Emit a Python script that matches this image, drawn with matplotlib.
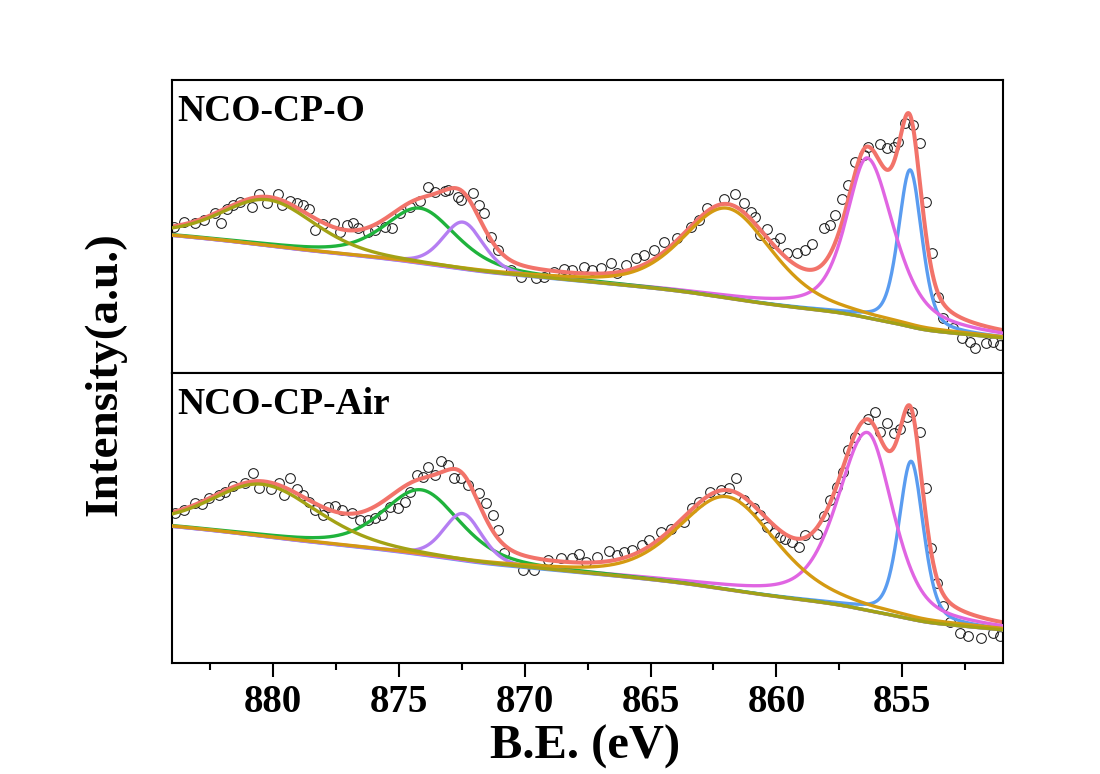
import numpy as np
import matplotlib
matplotlib.use("Agg")
import matplotlib.pyplot as plt
from matplotlib.ticker import MultipleLocator

plt.rcParams['font.family'] = ['Liberation Serif', 'DejaVu Serif']
plt.rcParams['font.weight'] = 'bold'

# ---- measured points (B.E. in eV, intensity in a.u.) ----
be_o = [883.93, 883.54, 883.08, 882.74, 882.28, 882.05, 881.82, 881.56, 881.29, 880.83,
        880.54, 880.24, 879.80, 879.64, 879.31, 879.05, 878.78, 878.58, 878.32, 877.99,
        877.55, 877.33, 877.07, 876.80, 876.60, 876.21, 875.95, 875.55, 875.28, 874.95,
        874.56, 874.16, 873.83, 873.57, 873.17, 873.05, 872.66, 872.52, 872.06, 871.80,
        871.60, 871.33, 871.07, 870.54, 870.15, 869.55, 869.22, 868.83, 868.43, 868.10,
        867.64, 867.31, 866.98, 866.58, 866.32, 865.99, 865.59, 865.26, 864.86, 864.47,
        863.94, 863.41, 863.08, 862.75, 862.09, 861.63, 861.30, 861.03, 860.84, 860.64,
        860.37, 860.11, 859.84, 859.58, 859.19, 858.85, 858.59, 858.13, 857.86, 857.67,
        857.40, 857.14, 856.87, 856.54, 856.35, 855.88, 855.62, 855.35, 855.16, 854.89,
        854.59, 854.30, 854.06, 853.84, 853.57, 853.38, 852.98, 852.65, 852.32, 852.12,
        851.66, 851.39, 851.13]
int_o = [146.3, 151.3, 149.7, 153.0, 159.7, 149.7, 163.7, 168.0, 170.7, 165.7,
         179.0, 169.7, 179.0, 168.0, 172.3, 169.7, 168.0, 163.7, 143.0, 149.0,
         150.3, 141.3, 148.0, 149.7, 144.7, 141.3, 143.0, 146.3, 144.7, 159.7,
         165.7, 172.3, 186.3, 181.3, 182.3, 183.0, 176.3, 173.0, 179.7, 168.0,
         160.3, 136.3, 123.0, 103.0, 96.3, 94.7, 96.3, 101.3, 103.7, 103.0,
         106.3, 103.0, 104.7, 109.7, 99.7, 108.0, 114.7, 118.0, 123.0, 131.3,
         134.7, 146.3, 153.0, 164.7, 173.7, 179.0, 170.3, 161.3, 156.3, 138.0,
         143.7, 130.3, 134.7, 119.7, 119.7, 123.0, 129.0, 144.7, 148.0, 158.0,
         173.7, 188.0, 211.3, 218.0, 226.3, 229.0, 224.7, 226.3, 231.3, 249.7,
         248.0, 230.3, 171.3, 120.3, 76.3, 54.7, 44.7, 34.7, 31.3, 24.7,
         29.7, 31.3, 28.0]

be_air = [883.87, 883.54, 883.08, 882.81, 882.55, 882.15, 881.89, 881.56, 881.10, 880.80,
          880.54, 880.07, 879.77, 879.57, 879.31, 879.05, 878.78, 878.58, 878.32, 877.99,
          877.79, 877.53, 877.26, 876.87, 876.54, 876.21, 875.95, 875.68, 875.35, 875.02,
          874.76, 874.56, 874.29, 874.03, 873.83, 873.57, 873.32, 873.04, 872.79, 872.52,
          872.26, 871.80, 871.53, 871.27, 871.07, 870.81, 870.08, 869.62, 869.09, 868.56,
          868.10, 867.83, 867.57, 867.11, 866.65, 866.32, 866.05, 865.72, 865.33, 865.06,
          864.60, 864.20, 863.67, 863.35, 863.08, 862.62, 862.22, 861.89, 861.59, 861.30,
          860.90, 860.64, 860.37, 860.11, 859.84, 859.65, 859.38, 859.12, 858.85, 858.39,
          858.13, 857.86, 857.60, 857.36, 857.14, 856.87, 856.35, 856.08, 855.88, 855.62,
          855.35, 855.09, 854.83, 854.63, 854.30, 854.06, 853.87, 853.64, 853.38, 853.11,
          852.71, 852.38, 851.86, 851.39, 851.13]
int_air = [149.7, 153.0, 159.7, 159.0, 164.7, 168.0, 171.3, 177.0, 179.7, 190.3,
           174.7, 173.7, 179.7, 168.0, 184.7, 173.7, 168.0, 161.3, 153.0, 148.0,
           155.7, 157.0, 153.0, 150.3, 143.0, 143.0, 144.7, 148.0, 156.3, 154.7,
           161.3, 171.3, 188.0, 185.7, 196.3, 188.0, 202.3, 198.0, 184.7, 184.7,
           178.0, 169.7, 160.3, 148.0, 133.0, 109.7, 93.0, 93.0, 103.0, 104.7,
           104.7, 109.0, 101.3, 106.3, 112.3, 108.0, 111.3, 113.0, 118.0, 123.0,
           131.3, 133.7, 141.3, 154.7, 161.3, 171.3, 173.0, 174.7, 184.7, 163.0,
           154.7, 148.0, 136.3, 129.7, 126.3, 123.7, 121.3, 116.3, 128.0, 129.0,
           147.0, 163.0, 175.7, 191.3, 213.0, 226.3, 243.7, 251.3, 231.3, 239.7,
           229.7, 233.7, 246.3, 251.3, 231.3, 174.7, 114.7, 79.7, 57.0, 41.3,
           29.7, 27.0, 24.7, 29.7, 27.0]

# ---- fitted components: Ni2+, Ni3+, sat, Ni3+ 2p1/2, Ni2+ 2p1/2, sat ----
comp_colors = ['#5A9CF0', '#E065E2', '#D49A12', '#1FB33C', '#B57EF2', '#A3A215']

center_o = [854.69, 856.39, 861.95, 874.15, 872.45, 880.20]
height_o = [157, 160, 90, 55, 47, 46]
fwhm_hi_o = [1.1, 2.0, 4.2, 3.4, 1.9, 4.4]
fwhm_lo_o = [1.1, 2.5, 4.2, 3.4, 1.9, 4.4]
eta_o = [0.4, 0.6, 0.4, 0.5, 0.3, 0.3]
bg_o = [35.0, 2.2, 30.0]      # low-BE level, slope, Shirley step

center_air = [854.65, 856.39, 861.96, 874.10, 872.46, 880.40]
height_air = [158, 178, 93, 65, 47, 52]
fwhm_hi_air = [1.15, 2.8, 4.6, 3.6, 1.8, 4.8]
fwhm_lo_air = [1.15, 2.4, 4.6, 3.6, 1.8, 5.2]
eta_air = [0.4, 0.5, 0.4, 0.4, 0.3, 0.3]
bg_air = [33.0, 2.2, 31.0]

labels = ['NCO-CP-O', 'NCO-CP-Air']


def pseudo_voigt(e, c, h, w_hi, w_lo, eta):
    w = np.where(e >= c, w_hi, w_lo)
    x = (e - c) / w
    return h * (eta / (1 + 4 * x**2) + (1 - eta) * np.exp(-4 * np.log(2) * x**2))


def draw_panel(ax, be, inten, centers, heights, w_hi, w_lo, etas, bg_par, label, ymax):
    e = np.linspace(851.0, 884.0, 1321)
    comps = [pseudo_voigt(e, c, h, a, b, n)
             for c, h, a, b, n in zip(centers, heights, w_hi, w_lo, etas)]
    total = np.sum(comps, axis=0)
    area = np.cumsum(total)
    bg = bg_par[0] + bg_par[1] * (e - e[0]) + bg_par[2] * area / area[-1]

    ax.plot(be, inten, 'o', ms=7, mfc='none', mec='#1a1a1a', mew=0.75, zorder=1)
    ax.plot(e, bg + total, color='#F2736A', lw=2.9, zorder=2)
    for i in [0, 1, 3, 4, 2, 5]:
        ax.plot(e, bg + comps[i], color=comp_colors[i], lw=2.4, zorder=3)

    ax.set_xlim(884, 851)
    ax.set_ylim(0, ymax)
    ax.text(0.006, 0.86, label, transform=ax.transAxes, fontsize=27,
            fontweight='bold', va='baseline', ha='left')
    for s in ax.spines.values():
        s.set_linewidth(1.5)


fig = plt.figure(figsize=(11, 7.74), dpi=100)
ax1 = fig.add_axes([0.1564, 0.5181, 0.7555, 0.3785])
ax2 = fig.add_axes([0.1564, 0.1434, 0.7555, 0.3747])

draw_panel(ax1, be_o, int_o, center_o, height_o, fwhm_hi_o, fwhm_lo_o, eta_o, bg_o, labels[0], 293)
draw_panel(ax2, be_air, int_air, center_air, height_air, fwhm_hi_air, fwhm_lo_air, eta_air, bg_air, labels[1], 290)

ax1.tick_params(bottom=False, labelbottom=False, left=False, labelleft=False, which='both')
ax2.tick_params(left=False, labelleft=False, which='both')
ax2.xaxis.set_major_locator(MultipleLocator(5))
ax2.xaxis.set_minor_locator(MultipleLocator(2.5))
ax2.tick_params(axis='x', which='major', direction='out', length=10, width=1.5,
                labelsize=28, pad=5)
ax2.tick_params(axis='x', which='minor', direction='out', length=5, width=1.5)

fig.text(0.532, 0.035, 'B.E. (eV)', fontsize=35, fontweight='bold', ha='center', va='center')
fig.text(0.096, 0.517, 'Intensity(a.u.)', fontsize=34, fontweight='bold',
         ha='center', va='center', rotation=90)

fig.savefig('out.png', dpi=100)
